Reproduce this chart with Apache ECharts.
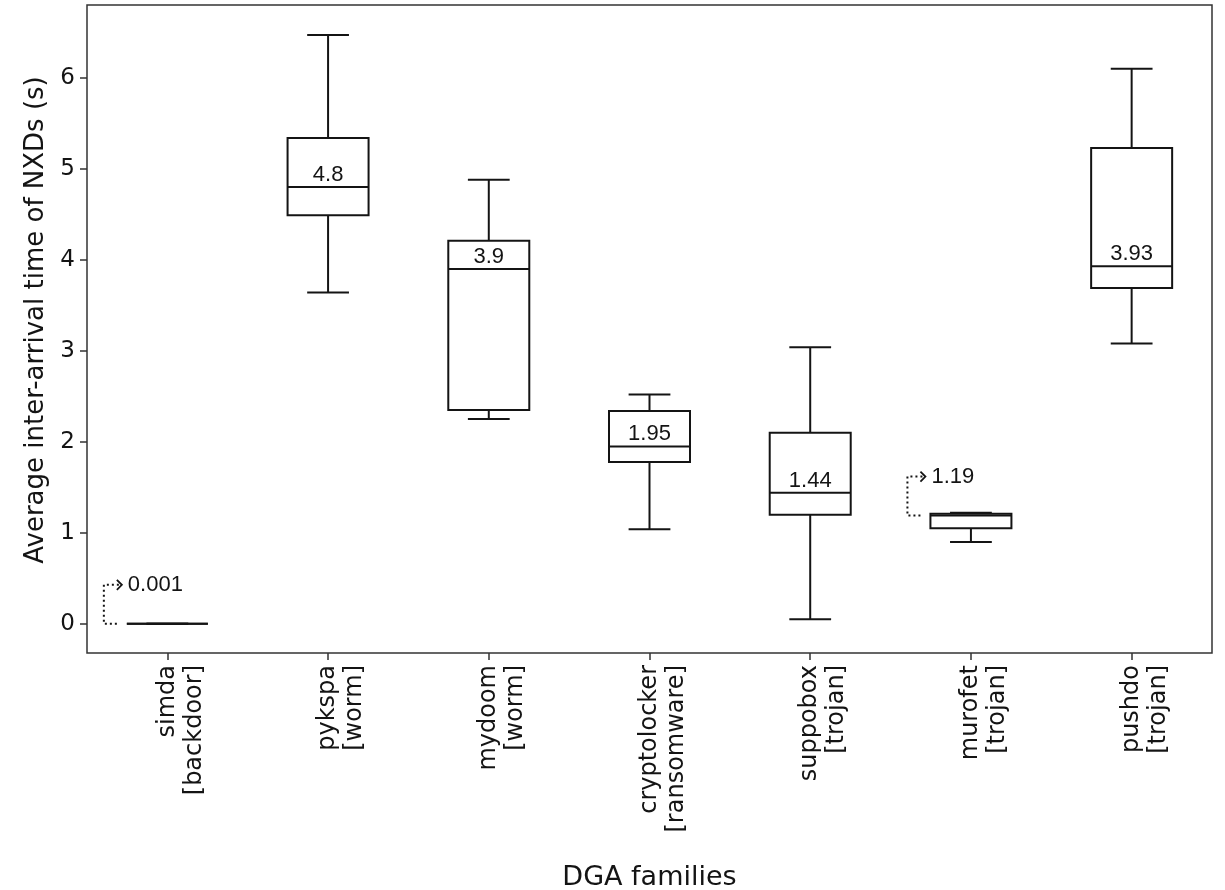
<!DOCTYPE html>
<html><head><meta charset="utf-8">
<script src="https://cdn.jsdelivr.net/npm/echarts@6/dist/echarts.min.js"></script>
<style>html,body{margin:0;padding:0;background:#fff}#c{width:1225px;height:890px}</style>
</head><body><div id="c"></div>
<script>
const families = ['simda', 'pykspa', 'mydoom', 'cryptolocker', 'suppobox', 'murofet', 'pushdo'];
const familyTypes = ['backdoor', 'worm', 'worm', 'ransomware', 'trojan', 'trojan', 'trojan'];
const whiskerLow  = [0.001, 3.64, 2.25, 1.04, 0.05, 0.90, 3.08];
const q1          = [0.001, 4.49, 2.35, 1.78, 1.20, 1.05, 3.69];
const median      = [0.001, 4.80, 3.90, 1.95, 1.44, 1.19, 3.93];
const q3          = [0.001, 5.34, 4.21, 2.34, 2.10, 1.21, 5.23];
const whiskerHigh = [0.001, 6.47, 4.88, 2.52, 3.04, 1.22, 6.10];
const medianLabels = ['0.001', '4.8', '3.9', '1.95', '1.44', '1.19', '3.93'];
const arrowLabel = [true, false, false, false, false, true, false];
const yTicks = [0, 1, 2, 3, 4, 5, 6];
const yMin = -0.32, yMax = 6.8;

const LINE = '#141414';
const TEXT = '#141414';
const MPL = '"DejaVu Sans", sans-serif';
const ARIAL = '"Liberation Sans", Arial, sans-serif';

const data = families.map((f, i) => [i, whiskerLow[i], q1[i], median[i], q3[i], whiskerHigh[i]]);

function renderItem(params, api) {
  const i = api.value(0);
  const pLo = api.coord([i, api.value(1)]);
  const pA = api.coord([i, api.value(2)]);
  const pM = api.coord([i, api.value(3)]);
  const pB = api.coord([i, api.value(4)]);
  const pHi = api.coord([i, api.value(5)]);
  const bw = api.size([1, 0])[0];
  const half = bw * 0.252;
  const cap = bw * 0.13;
  const x = pM[0];
  const ls = { stroke: LINE, lineWidth: 2, fill: null };
  const ch = [];
  ch.push({ type: 'line', shape: { x1: x, y1: pA[1], x2: x, y2: pLo[1] }, style: ls });
  ch.push({ type: 'line', shape: { x1: x, y1: pB[1], x2: x, y2: pHi[1] }, style: ls });
  ch.push({ type: 'line', shape: { x1: x - cap, y1: pLo[1], x2: x + cap, y2: pLo[1] }, style: ls });
  ch.push({ type: 'line', shape: { x1: x - cap, y1: pHi[1], x2: x + cap, y2: pHi[1] }, style: ls });
  ch.push({ type: 'rect', shape: { x: x - half, y: pB[1], width: 2 * half, height: pA[1] - pB[1] },
            style: { stroke: LINE, lineWidth: 2, fill: '#fff' } });
  ch.push({ type: 'line', shape: { x1: x - half, y1: pM[1], x2: x + half, y2: pM[1] }, style: ls });
  const lbl = medianLabels[i];
  if (!arrowLabel[i]) {
    ch.push({ type: 'text', style: { x: x, y: pM[1] - 1, text: lbl, align: 'center', verticalAlign: 'bottom',
              font: '22px ' + ARIAL, fill: TEXT } });
  } else {
    const left = x - half;
    const ty = pM[1] - 39;
    ch.push({ type: 'polyline', shape: { points: [[left - 10, pM[1]], [left - 23, pM[1]], [left - 23, ty], [left - 6, ty]] },
              style: { stroke: LINE, lineWidth: 2, fill: null, lineDash: [2, 3] } });
    ch.push({ type: 'polyline', shape: { points: [[left - 10, ty - 5], [left - 5, ty], [left - 10, ty + 5]] },
              style: { stroke: LINE, lineWidth: 1.8, fill: null } });
    ch.push({ type: 'text', style: { x: left + 1, y: ty, text: lbl, align: 'left', verticalAlign: 'middle',
              font: '22px ' + ARIAL, fill: TEXT } });
  }
  return { type: 'group', children: ch };
}

const chart = echarts.init(document.getElementById('c'), null, { renderer: 'canvas' });
chart.setOption({
  animation: false,
  backgroundColor: '#fff',
  grid: { left: 87, right: 13, top: 5, bottom: 237, outerBoundsMode: 'none', containLabel: false,
          show: true, borderColor: '#333', borderWidth: 1.5, backgroundColor: 'transparent' },
  xAxis: {
    type: 'category',
    data: families,
    boundaryGap: true,
    name: 'DGA families',
    nameLocation: 'middle',
    nameGap: 211,
    nameTextStyle: { fontFamily: MPL, fontSize: 27, color: TEXT },
    axisLine: { show: false, onZero: false },
    axisTick: { show: true, alignWithLabel: true, length: 7, lineStyle: { color: '#333', width: 1.5 } },
    axisLabel: {
      rotate: 90, margin: 12, interval: 0,
      fontFamily: MPL, fontSize: 24, lineHeight: 27, color: TEXT,
      formatter: (v, idx) => '\n' + v + '\n[' + familyTypes[idx] + ']'
    },
    splitLine: { show: false }
  },
  yAxis: {
    type: 'value',
    min: yMin, max: yMax,
    name: 'Average inter-arrival time of NXDs (s)',
    nameLocation: 'middle',
    nameGap: 36,
    nameTextStyle: { fontFamily: MPL, fontSize: 26, color: TEXT, padding: [0, 0, 0, 18] },
    axisLine: { show: false, onZero: false },
    axisTick: { show: true, length: 7, customValues: yTicks, lineStyle: { color: '#333', width: 1.5 } },
    axisLabel: { customValues: yTicks, margin: 12, fontFamily: MPL, fontSize: 23, color: TEXT },
    splitLine: { show: false }
  },
  series: [{
    type: 'custom',
    renderItem: renderItem,
    data: data,
    encode: { x: 0, y: [1, 2, 3, 4, 5] },
    clip: false,
    z: 5
  }]
});
</script></body></html>
